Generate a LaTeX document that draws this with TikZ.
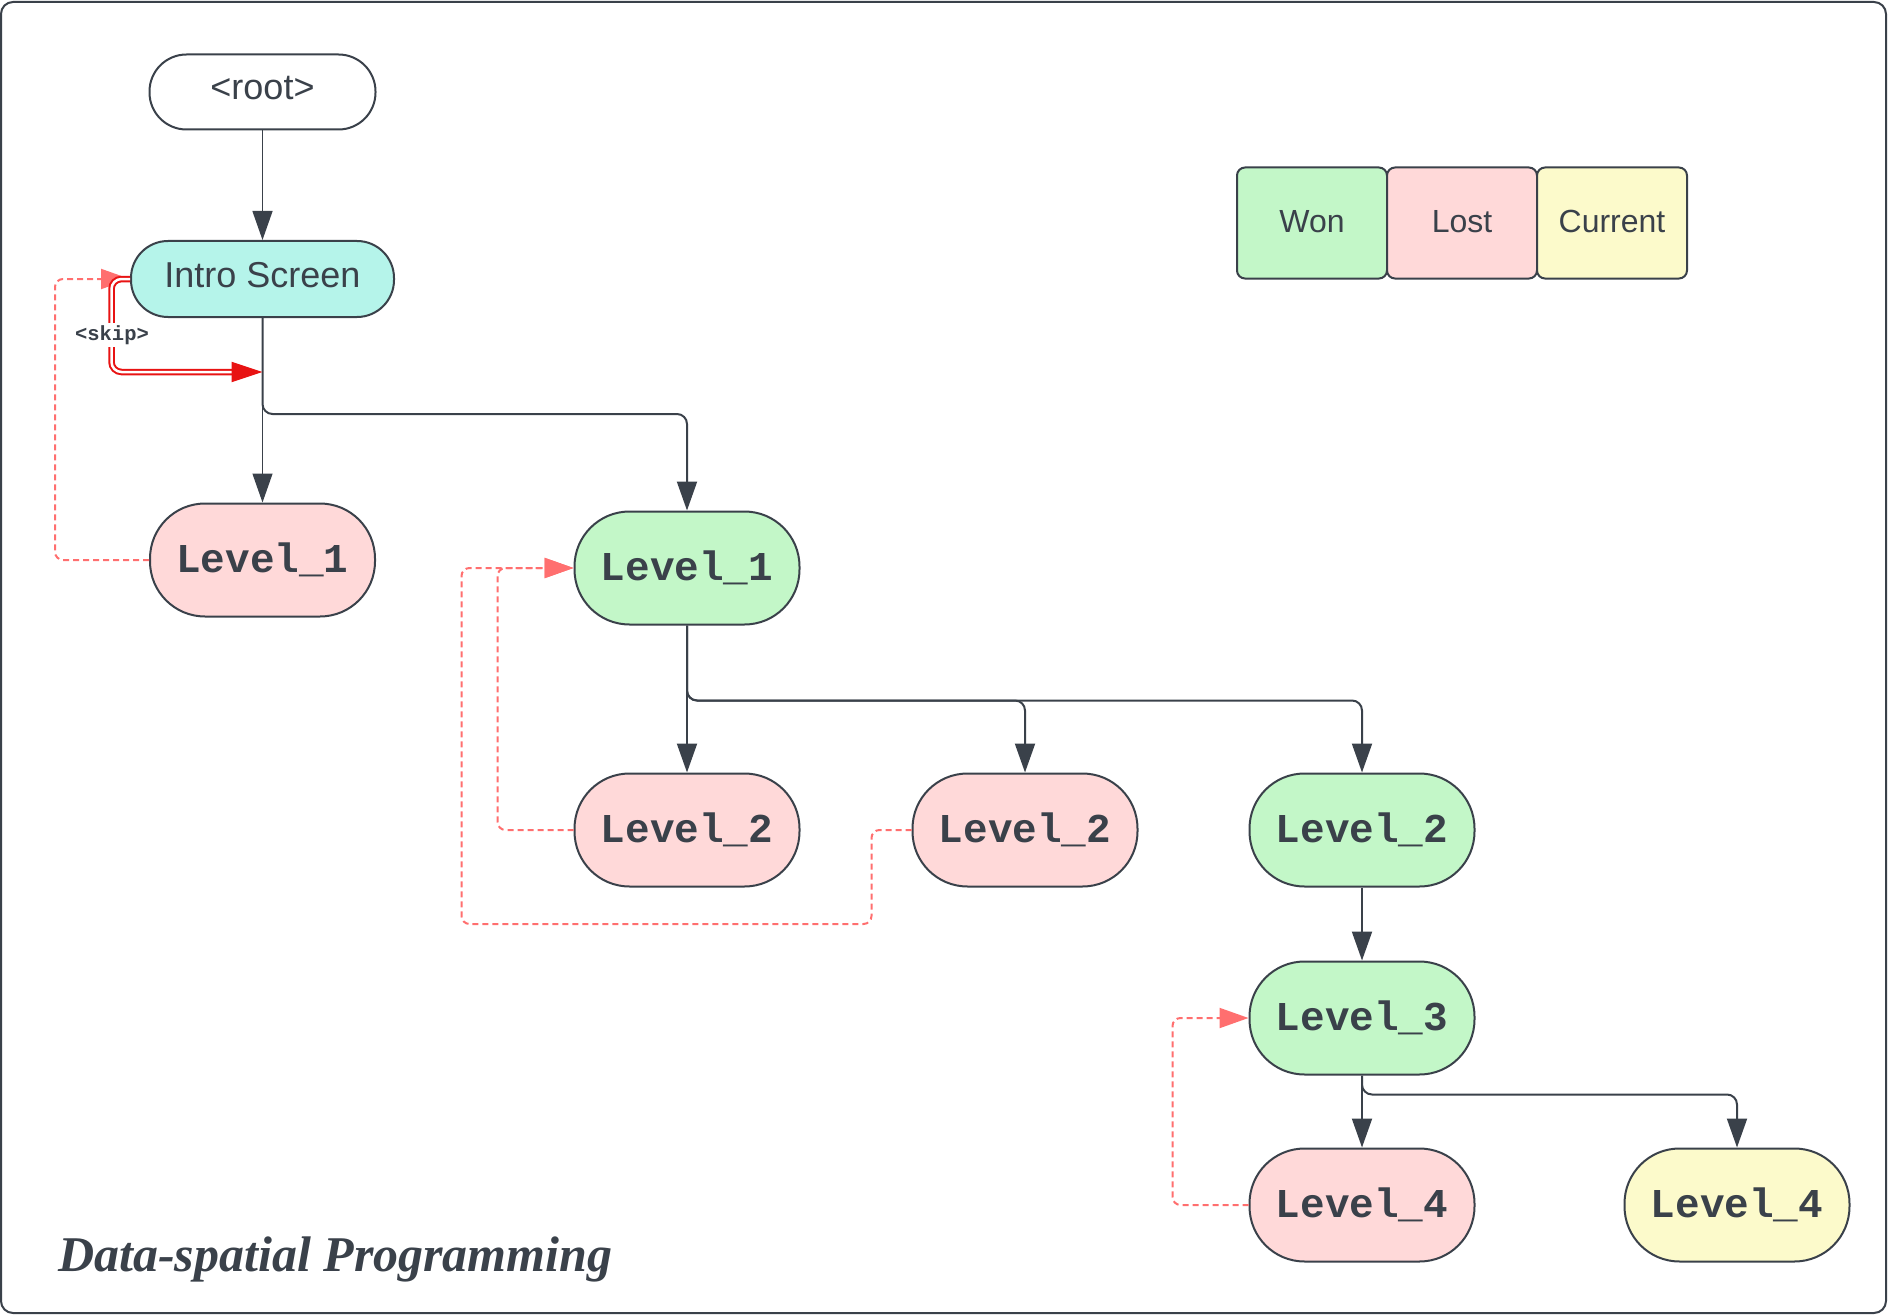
\documentclass[tikz,border=0pt]{standalone}
\usepackage{fontspec}
\setmainfont{Liberation Sans}
\newfontfamily\levelfont{Liberation Mono}
\newfontfamily\captionfont{Liberation Serif}
\usepackage{tikz}
\usetikzlibrary{arrows.meta,positioning}
\definecolor{ink}{HTML}{3A414A}
\definecolor{wonfill}{HTML}{C3F7C8}
\definecolor{lostfill}{HTML}{FFD9D9}
\definecolor{curfill}{HTML}{FCFACB}
\definecolor{introfill}{HTML}{B5F4EA}
\definecolor{retryred}{HTML}{FF6F6F}
\definecolor{skipred}{HTML}{E81313}
\tikzset{%
  pill/.style = {draw=ink, line width=2pt, rounded corners=37pt,
    minimum height=75pt, text=ink, text depth=9pt,
    font=\fontsize{36}{40}\selectfont},
  level/.style = {draw=ink, line width=2pt, rounded corners=55pt,
    minimum width=225pt, minimum height=113pt, text=ink,
    font=\levelfont\bfseries\fontsize{41}{44}\selectfont},
  won/.style = {level, fill=wonfill},
  lost/.style = {level, fill=lostfill},
  current/.style = {level, fill=curfill},
  key/.style = {draw=ink, line width=2pt, rounded corners=8pt,
    outer sep=0pt, minimum width=150pt, minimum height=111pt,
    text=ink, text depth=4pt, font=\fontsize{32}{36}\selectfont},
  link/.style = {draw=ink, line width=2pt, rounded corners=10pt,
    -{Triangle[length=29pt,width=20pt]}},
  thinlink/.style = {link, line width=1.3pt},
  retry/.style = {draw=retryred, line width=2pt, rounded corners=8pt,
    dash pattern=on 6pt off 4pt, -{Triangle[length=29pt,width=20pt]}},
  skiproute/.style = {draw=skipred, line width=2pt, double=white,
    double distance=2.5pt, rounded corners=10pt,
    -{Triangle[length=31pt,width=20pt]}},
  skiptag/.style = {fill=white, inner sep=2pt, text=ink,
    font=\levelfont\bfseries\fontsize{20.5}{22}\selectfont}
}
\begin{document}
\begin{tikzpicture}[x=1pt,y=-1pt]
  \useasboundingbox (0,0) rectangle (1888,1316);
  \draw[ink, line width=2pt, rounded corners=12pt] (1,2) rectangle (1886,1313);

  \node[pill, fill=white, minimum width=226pt] (root) at (262.5,92) {<root>};
  \node[pill, fill=introfill, minimum width=263pt, minimum height=76pt] (intro) at (262.5,279) {Intro Screen};

  \node[lost] (lvlonelost) at (262.5,560) {Level\_1};
  \node[won] (lvlonewon) at (687,568) {Level\_1};
  \node[lost] (lvltwoa) at (687,830) {Level\_2};
  \node[lost] (lvltwob) at (1025,830) {Level\_2};
  \node[won] (lvltwowon) at (1362,830) {Level\_2};
  \node[won] (lvlthree) at (1362,1018) {Level\_3};
  \node[lost] (lvlfourlost) at (1362,1205) {Level\_4};
  \node[current] (lvlfourcur) at (1737,1205) {Level\_4};

  \node[key, fill=wonfill] (keywon) at (1312,223) {Won};
  \node[key, fill=lostfill, right=0pt of keywon] (keylost) {Lost};
  \node[key, fill=curfill, right=0pt of keylost] (keycur) {Current};

  \node[text=ink, anchor=base west, inner sep=0pt,
    font=\captionfont\bfseries\itshape\fontsize{50}{54}\selectfont]
    (caption) at (58,1271) {Data-spatial Programming};

  \draw[thinlink] (root) -- (intro);
  \draw[thinlink] (intro) -- (lvlonelost);
  \draw[link] (intro.south) -- ++(0,96) -| (lvlonewon.north);
  \draw[link] (lvlonewon) -- (lvltwoa);
  \draw[link] (lvlonewon.south) -- ++(0,75) -| (lvltwob.north);
  \draw[link] (lvlonewon.south) -- ++(0,75) -| (lvltwowon.north);
  \draw[link] (lvltwowon) -- (lvlthree);
  \draw[link] (lvlthree) -- (lvlfourlost);
  \draw[link] (lvlthree.south) -- ++(0,19) -| (lvlfourcur.north);

  \draw[retry] (lvlonelost.west) -- ++(-94,0) |- (intro.west);
  \draw[retry] (lvltwoa.west) -- ++(-76,0) |- (lvlonewon.west);
  \draw[retry] (lvltwob.west) -- ++(-40,0) -- ++(0,94) -- ++(-410,0) |- (lvlonewon.west);
  \draw[retry] (lvlfourlost.west) -- ++(-76,0) |- (lvlthree.west);

  \coordinate (skipin) at (262.5,372);
  \draw[skiproute] (intro.west) -- ++(-18.5,0) |- (skipin);
  \node[skiptag] (skiplabel) at (112,335) {<skip>};
\end{tikzpicture}
\end{document}
